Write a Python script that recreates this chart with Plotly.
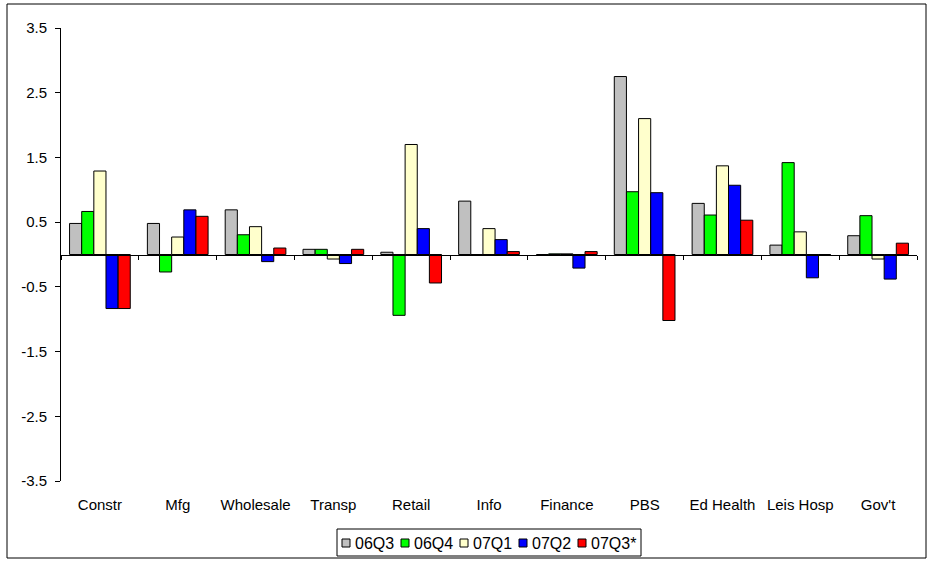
import plotly.graph_objects as go

# Employment change by sector, by quarter
sectors = ["Constr", "Mfg", "Wholesale", "Transp", "Retail", "Info",
           "Finance", "PBS", "Ed Health", "Leis Hosp", "Gov't"]

q_06Q3 = [0.48, 0.48, 0.69, 0.08, 0.035, 0.825, 0.0, 2.75, 0.79, 0.145, 0.29]
q_06Q4 = [0.665, -0.27, 0.305, 0.08, -0.94, 0.0, 0.01, 0.97, 0.61, 1.42, 0.60]
q_07Q1 = [1.29, 0.27, 0.43, -0.07, 1.70, 0.40, 0.01, 2.10, 1.37, 0.35, -0.07]
q_07Q2 = [-0.835, 0.69, -0.11, -0.14, 0.40, 0.23, -0.21, 0.955, 1.07, -0.36, -0.38]
q_07Q3 = [-0.835, 0.59, 0.10, 0.08, -0.44, 0.045, 0.045, -1.02, 0.53, 0.0, 0.175]

series_names = ["06Q3", "06Q4", "07Q1", "07Q2", "07Q3*"]
series_values = [q_06Q3, q_06Q4, q_07Q1, q_07Q2, q_07Q3]
series_colors = ["#C0C0C0", "#00FF00", "#FFFFCC", "#0000FF", "#FF0000"]

tick_vals = [3.5, 2.5, 1.5, 0.5, -0.5, -1.5, -2.5, -3.5]
tick_text = ["3.5", "2.5", "1.5", "0.5", "-0.5", "-1.5", "-2.5", "-3.5"]

FONT = "Arial, Liberation Sans, sans-serif"

# page geometry (pixels)
W, H = 928, 562
ML, MR, MT, MB = 61, 11, 28, 81
PW, PH = W - ML - MR, H - MT - MB


def px_x(px):
    return (px - ML) / PW


def px_y(py):
    return (H - MB - py) / PH


fig = go.Figure()
for name, vals, color in zip(series_names, series_values, series_colors):
    fig.add_trace(go.Bar(
        x=sectors, y=vals, name=name, showlegend=False,
        marker=dict(color=color, line=dict(color="black", width=1)),
    ))

# invisible helper trace that carries the zero-line axis with boundary ticks
fig.add_trace(go.Scatter(
    x=sectors, y=[None] * len(sectors), xaxis="x2", yaxis="y",
    showlegend=False, hoverinfo="skip", mode="markers",
))

# outer frame of the chart
shapes = [dict(
    type="rect", xref="paper", yref="paper",
    x0=px_x(7), x1=px_x(926), y0=px_y(558), y1=px_y(4),
    line=dict(color="black", width=1), fillcolor="rgba(0,0,0,0)",
    layer="below",
)]
annotations = []

# legend box along the bottom, one swatch + label per series
LEG_X0, LEG_X1, LEG_Y0, LEG_Y1 = 337, 641, 529, 556
SW_X, SW_PITCH, SW_SIZE, SW_YC = 342, 59, 8, 543
shapes.append(dict(
    type="rect", xref="paper", yref="paper",
    x0=px_x(LEG_X0), x1=px_x(LEG_X1), y0=px_y(LEG_Y1), y1=px_y(LEG_Y0),
    line=dict(color="black", width=1), fillcolor="white", layer="above",
))
for i, (name, color) in enumerate(zip(series_names, series_colors)):
    sx = SW_X + i * SW_PITCH
    shapes.append(dict(
        type="rect", xref="paper", yref="paper",
        x0=px_x(sx), x1=px_x(sx + SW_SIZE),
        y0=px_y(SW_YC + SW_SIZE / 2), y1=px_y(SW_YC - SW_SIZE / 2),
        line=dict(color="black", width=1), fillcolor=color, layer="above",
    ))
    annotations.append(dict(
        text=name, xref="paper", yref="paper",
        x=px_x(sx + SW_SIZE + 3), y=px_y(SW_YC),
        xanchor="left", yanchor="middle", showarrow=False,
        font=dict(family=FONT, size=16, color="black"),
    ))

fig.update_layout(
    width=W, height=H,
    margin=dict(l=ML, r=MR, t=MT, b=MB, autoexpand=False),
    paper_bgcolor="white", plot_bgcolor="white",
    font=dict(family=FONT, size=15, color="black"),
    barmode="group", bargap=0.22, bargroupgap=0,
    showlegend=False,
    xaxis=dict(
        type="category", categoryorder="array", categoryarray=sectors,
        range=[-0.5, len(sectors) - 0.5],
        showline=False, showgrid=False, zeroline=False, ticks="",
        ticklabelstandoff=13,
        tickfont=dict(family=FONT, size=15, color="black"),
    ),
    xaxis2=dict(
        type="category", categoryorder="array", categoryarray=sectors,
        range=[-0.5, len(sectors) - 0.5],
        overlaying="x", anchor="free", position=0.5,
        showline=True, linecolor="black", linewidth=1,
        ticks="outside", tickson="boundaries", ticklen=4,
        tickcolor="black", tickwidth=1,
        showticklabels=False, showgrid=False, zeroline=False,
    ),
    yaxis=dict(
        range=[-3.5, 3.5], tickmode="array",
        tickvals=tick_vals, ticktext=tick_text,
        showline=True, linecolor="black", linewidth=1,
        ticks="outside", ticklen=5, tickcolor="black",
        ticklabelstandoff=5,
        showgrid=False, zeroline=False,
        tickfont=dict(family=FONT, size=15, color="black"),
    ),
    shapes=shapes,
    annotations=annotations,
)

fig.write_html("out.html")
